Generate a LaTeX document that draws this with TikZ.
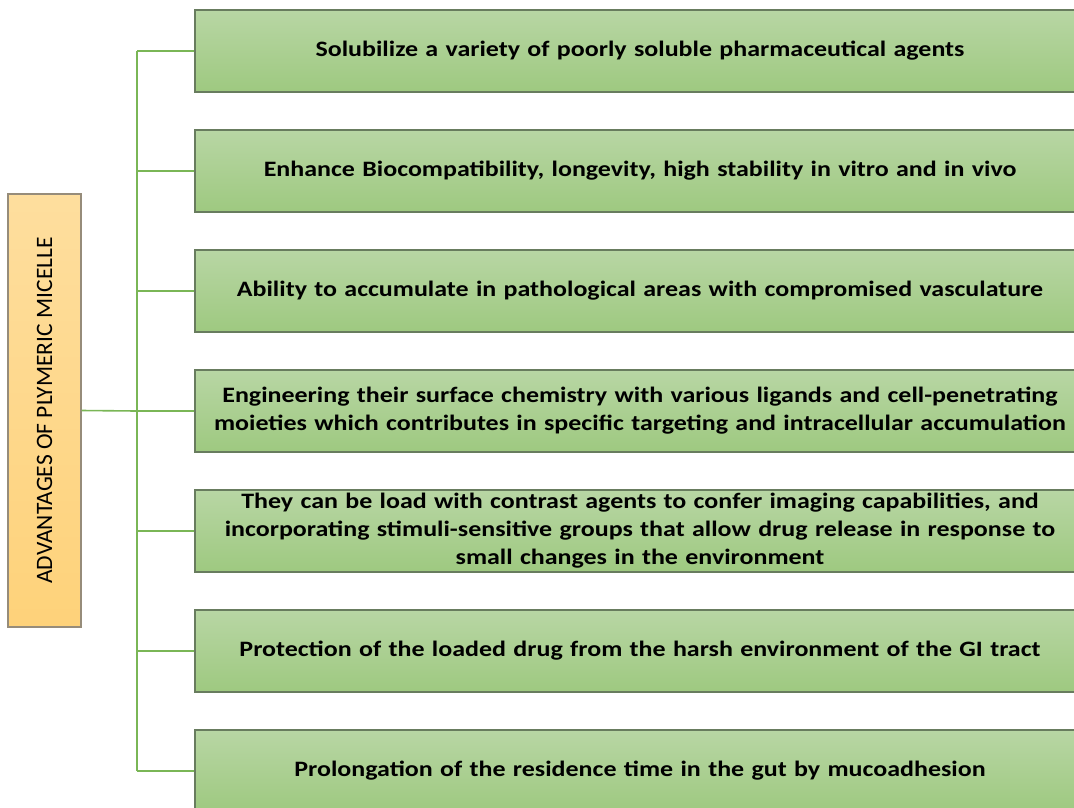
\documentclass[tikz,border=0pt]{standalone}
\usepackage{fontspec}
\setmainfont{Carlito}[FakeStretch=1.18]
\newfontfamily\titrefont{Carlito}

\definecolor{vertclair}{RGB}{184,214,164}
\definecolor{vertfonce}{RGB}{158,201,128}
\definecolor{bordvert}{RGB}{104,124,94}
\definecolor{orclair}{RGB}{254,222,158}
\definecolor{orfonce}{RGB}{254,210,122}
\definecolor{bordor}{RGB}{150,140,122}
\definecolor{lienvert}{RGB}{122,182,86}

\begin{document}
\begin{tikzpicture}[x=1pt,y=-1pt,
  avantage/.style={draw=bordvert, line width=1.2pt, top color=vertclair, bottom color=vertfonce,
    minimum width=890pt, minimum height=82pt, text width=880pt, align=center, inner sep=0pt,
    font=\bfseries\fontsize{22}{28}\selectfont},
  lien/.style={draw=lienvert, line width=1.6pt}]

\clip (0,0) rectangle (1074,807);

% Boite de gauche
\node[draw=bordor, line width=1.2pt, top color=orclair, bottom color=orfonce,
  minimum width=73pt, minimum height=433pt, inner sep=0pt,
  font=\titrefont\fontsize{23.5}{26}\selectfont] (titre) at (44.5,410.5)
  {\rotatebox{90}{ADVANTAGES OF PLYMERIC MICELLE}};

% Les avantages
\node[avantage] (a1) at (640,51) {Solubilize a variety of poorly soluble pharmaceutical agents};
\node[avantage] (a2) at (640,171) {Enhance Biocompatibility, longevity, high stability in vitro and in vivo};
\node[avantage] (a3) at (640,291) {Ability to accumulate in pathological areas with compromised vasculature};
\node[avantage] (a4) at (640,411) {Engineering their surface chemistry with various ligands and cell-penetrating\\ moieties which contributes in specific targeting and intracellular accumulation};
\node[avantage] (a5) at (640,531) {They can be load with contrast agents to confer imaging capabilities, and\\ incorporating stimuli-sensitive groups that allow drug release in response to\\ small changes in the environment};
\node[avantage] (a6) at (640,651) {Protection of the loaded drug from the harsh environment of the GI tract};
\node[avantage] (a7) at (640,771) {Prolongation of the residence time in the gut by mucoadhesion};

% Les liens
\coordinate (tronc) at (137,411);
\draw[lien] (titre.east) -- (tronc);
\draw[lien] (tronc |- a1.west) -- (tronc |- a7.west);
\foreach \i in {1,...,7}
  \draw[lien] (tronc |- a\i.west) -- (a\i.west);

\end{tikzpicture}
\end{document}
